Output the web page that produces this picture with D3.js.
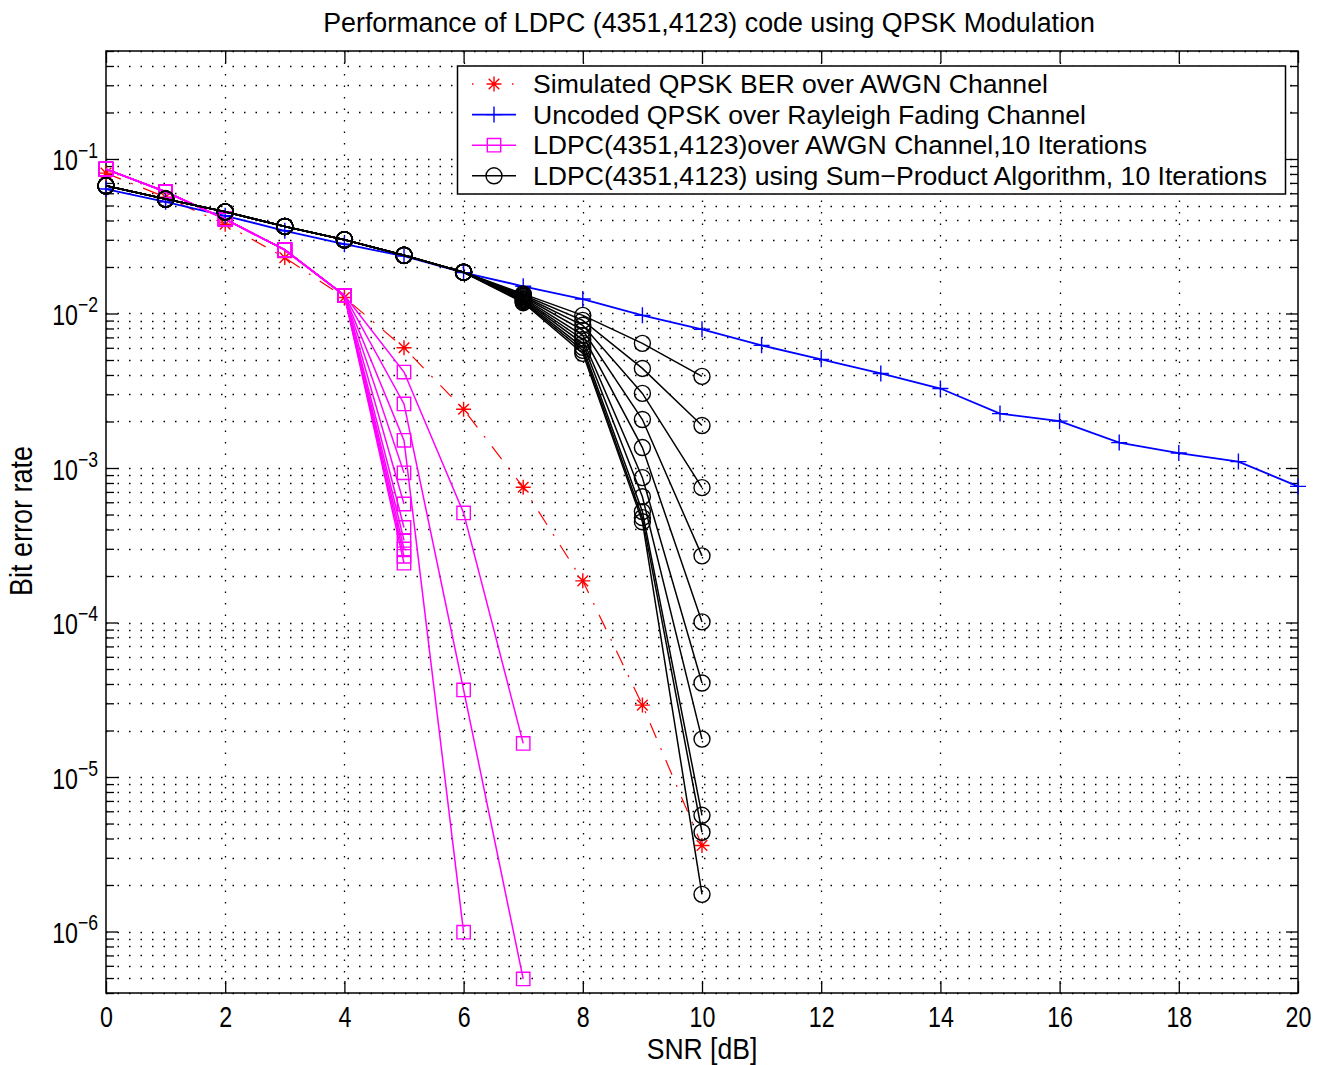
<!DOCTYPE html>
<html>
<head>
<meta charset="utf-8">
<script src="https://cdn.jsdelivr.net/npm/d3@7/dist/d3.min.js"></script>
<style>
  body { margin: 0; background: #fff; }
  text { font-family: "Liberation Sans", Arial, Helvetica, sans-serif; }
</style>
</head>
<body>
<script>
// values
var snr = [0, 1, 2, 3, 4, 5, 6, 7, 8, 9, 10, 11, 12, 13, 14, 15, 16, 17, 18, 19, 20]
var snrAwgn = [0, 1, 2, 3, 4, 5, 6, 7, 8, 9, 10]
var berSimAwgn = [0.081, 0.0565, 0.0378, 0.0230, 0.0127, 0.0060, 0.0024, 0.00075, 0.000186, 2.92e-5, 3.6e-6]
var berRayleigh = [0.0639, 0.0528, 0.0429, 0.0343, 0.0281, 0.0235, 0.0184, 0.0150, 0.0124, 0.00973, 0.0079,
                   0.00622, 0.00505, 0.00409, 0.00327, 0.00225, 0.00201, 0.00146, 0.00125, 0.00110, 0.00076]

// LDPC over AWGN: 10 curves, shared up to 4 dB, then they split (zero BER is not drawn)
var ldpcSnrShared = [0, 1, 2, 3, 4]
var ldpcShared = [0.086, 0.0614, 0.0408, 0.0258, 0.0131]
var ldpcAt5 = [4.18e-3, 2.60e-3, 1.51e-3, 9.3e-4, 5.85e-4, 4.12e-4, 3.40e-4, 2.99e-4, 2.68e-4, 2.42e-4]
var ldpcAt6 = [5.12e-4, 3.66e-5, 9.9e-7]
var ldpcAt7 = [1.65e-5, 4.93e-7]

// sum-product: 10 curves, shared up to 6 dB
var spaSnrShared = [0, 1, 2, 3, 4, 5, 6]
var spaShared = [0.0671, 0.0551, 0.0455, 0.0366, 0.0300, 0.0238, 0.0185]
var spaAt7 = [0.01340, 0.01318, 0.01297, 0.01283, 0.01262, 0.01242, 0.01228, 0.01210, 0.01192, 0.01175]
var spaAt8 = [9.73e-3, 9.03e-3, 8.39e-3, 7.78e-3, 7.22e-3, 6.80e-3, 6.41e-3, 6.04e-3, 5.77e-3, 5.52e-3]
var spaAt9 = [6.41e-3, 4.41e-3, 3.04e-3, 2.06e-3, 1.356e-3, 8.66e-4, 6.52e-4, 5.22e-4, 4.77e-4, 4.49e-4]
var spaAt10 = [3.915e-3, 1.884e-3, 7.46e-4, 2.70e-4, 1.009e-4, 4.06e-5, 1.759e-5, 5.65e-6, 4.39e-6, 1.74e-6]

var xTicks = [0, 2, 4, 6, 8, 10, 12, 14, 16, 18, 20]
var yDecades = [1e-6, 1e-5, 1e-4, 1e-3, 1e-2, 1e-1]
var yDecadeLabels = ['−6', '−5', '−4', '−3', '−2', '−1']
var legendLabels = ['Simulated QPSK BER over AWGN Channel', 'Uncoded QPSK over Rayleigh Fading Channel',
                    'LDPC(4351,4123)over AWGN Channel,10 Iterations', 'LDPC(4351,4123) using Sum−Product Algorithm, 10 Iterations']

var W = 1327, H = 1065
var m = {left: 106, right: 1298, top: 51, bottom: 993}
var narrow = 0.8   // axis texts in the figure use a condensed face

var x = d3.scaleLinear().domain([0, 20]).range([m.left, m.right])
var y = d3.scaleLog().domain([4e-7, 0.5]).range([m.bottom, m.top])

var svg = d3.select('body').append('svg').attr('width', W).attr('height', H)

// all 1..9 x 10^k values inside the domain (grid + minor ticks)
var yAll = []
for (let e = -7; e <= -1; e++) {
  for (let j = 1; j <= 9; j++) {
    var v = +(j * Math.pow(10, e)).toPrecision(3)
    if (v >= 4e-7 && v <= 0.5) yAll.push(v)
  }
}
var yMinor = yAll.filter(v => yDecades.indexOf(v) < 0)

// dotted grid
var grid = svg.append('g')
grid.selectAll('line.gy').data(yAll).enter().append('line')
  .attr('class', 'gy')
  .attr('x1', m.left).attr('x2', m.right)
  .attr('y1', d => Math.round(y(d)) + 0.5).attr('y2', d => Math.round(y(d)) + 0.5)
grid.selectAll('line.gx').data(xTicks.slice(1, -1)).enter().append('line')
  .attr('class', 'gx')
  .attr('y1', m.top).attr('y2', m.bottom)
  .attr('x1', d => Math.round(x(d)) + 0.5).attr('x2', d => Math.round(x(d)) + 0.5)
grid.selectAll('line')
  .attr('stroke', '#000').attr('stroke-width', 1.3).attr('stroke-dasharray', '1.5,10')

// axes, ticks pointing inwards
function styleAxis(g) {
  g.select('.domain').remove()
  g.selectAll('.tick line').attr('stroke', '#000').attr('stroke-width', 1.3)
}
svg.append('g').attr('transform', `translate(0,${m.bottom})`)
  .call(d3.axisBottom(x).tickValues(xTicks).tickSizeInner(-12).tickSizeOuter(0).tickPadding(13))
  .call(styleAxis)
  .call(g => g.selectAll('.tick text').attr('font-size', 29).attr('fill', '#000')
    .attr('transform', `scale(${narrow},1)`))
svg.append('g').attr('transform', `translate(0,${m.top})`)
  .call(d3.axisTop(x).tickValues(xTicks).tickSizeInner(-12).tickSizeOuter(0).tickFormat(''))
  .call(styleAxis)

var yLeft = svg.append('g').attr('transform', `translate(${m.left},0)`)
  .call(d3.axisLeft(y).tickValues(yDecades).tickSizeInner(-12).tickSizeOuter(0).tickFormat(''))
  .call(styleAxis)
svg.append('g').attr('transform', `translate(${m.left},0)`)
  .call(d3.axisLeft(y).tickValues(yMinor).tickSizeInner(-8).tickSizeOuter(0).tickFormat(''))
  .call(styleAxis)
svg.append('g').attr('transform', `translate(${m.right},0)`)
  .call(d3.axisRight(y).tickValues(yDecades).tickSizeInner(-12).tickSizeOuter(0).tickFormat(''))
  .call(styleAxis)
svg.append('g').attr('transform', `translate(${m.right},0)`)
  .call(d3.axisRight(y).tickValues(yMinor).tickSizeInner(-8).tickSizeOuter(0).tickFormat(''))
  .call(styleAxis)

// 10^k labels
yLeft.selectAll('.tick').each(function (d, i) {
  var t = d3.select(this).append('g')
    .attr('transform', `translate(-8,11) scale(${narrow},1)`)
    .append('text').attr('fill', '#000').attr('text-anchor', 'end')
  t.append('tspan').attr('font-size', 29).text('10')
  t.append('tspan').attr('font-size', 22).attr('dy', -13).text(yDecadeLabels[i])
})

// box
svg.append('rect')
  .attr('x', m.left).attr('y', m.top)
  .attr('width', m.right - m.left).attr('height', m.bottom - m.top)
  .attr('fill', 'none').attr('stroke', '#000').attr('stroke-width', 1.5)

// titles
svg.append('text').attr('x', 709).attr('y', 32).attr('text-anchor', 'middle')
  .attr('font-size', 26.8).text('Performance of LDPC (4351,4123) code using QPSK Modulation')
svg.append('text')
  .attr('transform', `translate(${(m.left + m.right) / 2},1059) scale(0.9,1)`)
  .attr('text-anchor', 'middle').attr('font-size', 29.5).text('SNR [dB]')
svg.append('text')
  .attr('transform', 'translate(32,521) rotate(-90) scale(0.87,1)')
  .attr('text-anchor', 'middle').attr('font-size', 31).text('Bit error rate')

// marker shapes
function markerPath(type, cx, cy) {
  if (type === 'plus') return `M${cx - 8},${cy}H${cx + 8}M${cx},${cy - 8}V${cy + 8}`
  if (type === 'star') {
    var s = 7.5, k = 5.3
    return `M${cx - s},${cy}H${cx + s}M${cx},${cy - s}V${cy + s}` +
      `M${cx - k},${cy - k}L${cx + k},${cy + k}M${cx - k},${cy + k}L${cx + k},${cy - k}`
  }
  if (type === 'square') return `M${cx - 6.7},${cy - 6.7}h13.4v13.4h-13.4Z`
  if (type === 'circle') return `M${cx - 8},${cy}a8,8 0 1,0 16,0a8,8 0 1,0 -16,0`
}

var line = d3.line().x(d => x(d[0])).y(d => y(d[1]))

function drawSeries(points, color, width, dash, marker) {
  var g = svg.append('g')
  g.append('path')
    .attr('d', line(points))
    .attr('fill', 'none').attr('stroke', color).attr('stroke-width', width)
    .attr('stroke-dasharray', dash)
  g.selectAll('path.mk').data(points).enter().append('path')
    .attr('class', 'mk')
    .attr('d', d => markerPath(marker, x(d[0]), y(d[1])))
    .attr('fill', 'none').attr('stroke', color).attr('stroke-width', 1.4)
}

var red = '#ff0000', blue = '#0000ff', magenta = '#ff00ff', black = '#000000'

drawSeries(snrAwgn.map((s, i) => [s, berSimAwgn[i]]), red, 1.2, '16,11,2,11', 'star')
drawSeries(snr.map((s, i) => [s, berRayleigh[i]]), blue, 1.8, null, 'plus')

for (let i = 0; i < ldpcAt5.length; i++) {
  var pts = ldpcSnrShared.map((s, j) => [s, ldpcShared[j]])
  pts.push([5, ldpcAt5[i]])
  if (i < ldpcAt6.length) pts.push([6, ldpcAt6[i]])
  if (i < ldpcAt7.length) pts.push([7, ldpcAt7[i]])
  drawSeries(pts, magenta, 1.5, null, 'square')
}

for (let i = 0; i < spaAt7.length; i++) {
  var pts = spaSnrShared.map((s, j) => [s, spaShared[j]])
  pts.push([7, spaAt7[i]], [8, spaAt8[i]], [9, spaAt9[i]], [10, spaAt10[i]])
  drawSeries(pts, black, 1.5, null, 'circle')
}

// legend
var lg = svg.append('g')
lg.append('rect').attr('x', 457.5).attr('y', 66).attr('width', 828).attr('height', 128)
  .attr('fill', '#fff').attr('stroke', '#000').attr('stroke-width', 1.5)
var legendStyle = [
  {color: red, dash: '1.5,18.5', width: 1.5, marker: 'star'},
  {color: blue, dash: null, width: 1.8, marker: 'plus'},
  {color: magenta, dash: null, width: 1.5, marker: 'square'},
  {color: black, dash: null, width: 1.5, marker: 'circle'}
]
legendLabels.forEach(function (lab, i) {
  var cy = 84 + i * 30.6
  var st = legendStyle[i]
  lg.append('line').attr('x1', 472).attr('x2', 516).attr('y1', cy).attr('y2', cy)
    .attr('stroke', st.color).attr('stroke-width', st.width).attr('stroke-dasharray', st.dash)
  lg.append('path').attr('d', markerPath(st.marker, 494, cy))
    .attr('fill', 'none').attr('stroke', st.color).attr('stroke-width', 1.4)
  lg.append('text').attr('x', 533).attr('y', cy + 9).attr('font-size', 26.6).text(lab)
})
</script>
</body>
</html>
